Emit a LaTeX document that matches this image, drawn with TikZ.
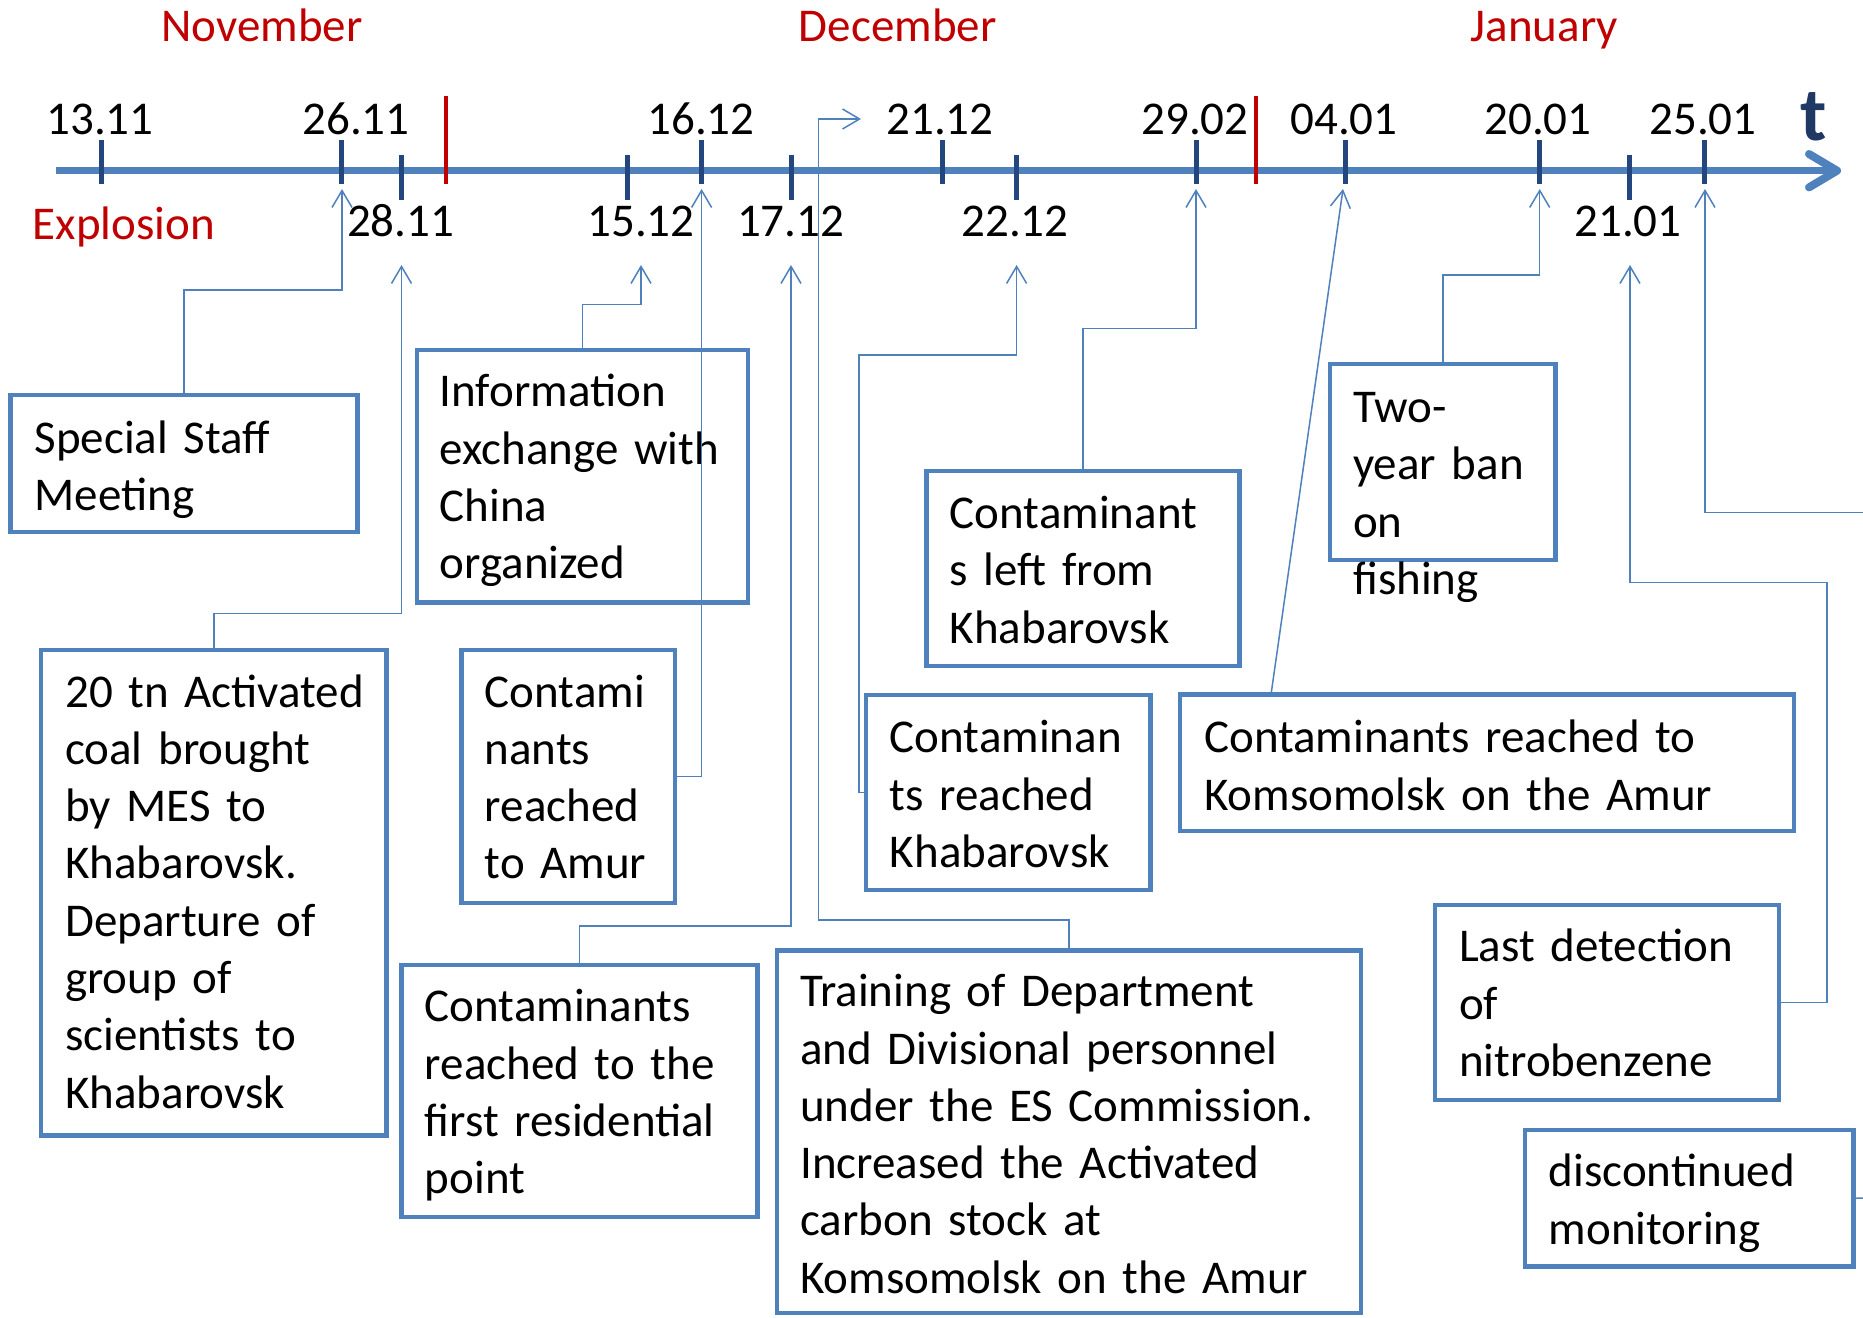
\documentclass[tikz,border=0pt]{standalone}
\usepackage{fontspec}
\setmainfont{Carlito}
\usetikzlibrary{arrows.meta}
\definecolor{boxblue}{RGB}{79,129,189}
\definecolor{tickblue}{RGB}{36,70,126}
\definecolor{monthred}{RGB}{192,0,0}
\definecolor{tnavy}{RGB}{31,56,100}
\begin{document}
\begin{tikzpicture}[x=1pt,y=-1pt,
 evbox/.style={draw=boxblue, line width=4.5pt, inner sep=0pt, outer sep=0pt, anchor=north west},
 btext/.style={inner sep=0pt, anchor=base west, text width=640pt, align=left, font=\fontsize{47}{57.3}\selectfont},
 datelbl/.style={inner sep=0pt, anchor=base, font=\fontsize{47}{57}\selectfont},
 monthlbl/.style={inner sep=0pt, anchor=base, text=monthred, font=\fontsize{47}{57}\selectfont},
 conn/.style={draw=boxblue, line width=1.5pt, -{Straight Barb[length=17pt,width=20pt]}},
 link/.style={draw=boxblue, line width=1.5pt},
 tickmark/.style={draw=tickblue, line width=5pt},
 redline/.style={draw=monthred, line width=4pt},
 axisline/.style={draw=boxblue, line width=7pt},
]
\useasboundingbox (0,0) rectangle (1863,1317);
\fill[white] (0,0) rectangle (1863,1317);

% months
\node[monthlbl] (nov) at (262,41.7) {November};
\node[monthlbl] (dec) at (897.7,41.7) {December};
\node[monthlbl] (jan) at (1544.4,41.7) {January};
\node[monthlbl, anchor=base west] (expl) at (32.6,239) {Explosion};

% axis
\coordinate (ax0) at (56,170.7);
\coordinate (ax1) at (1837,170.7);
\draw[axisline] (ax0) -- (ax1);
\draw[axisline, line width=8pt, line join=round, line cap=round] (1809,154) -- (ax1) -- (1809,187.4);
\node[inner sep=0pt, anchor=base, text=tnavy, font=\fontsize{76}{80}\selectfont\bfseries] (tlbl) at (1814,140) {t};

% red month separators
\draw[redline] (446,96) -- (446,184);
\draw[redline] (1255.6,96) -- (1255.6,184);

% ticks (upper)
\foreach \x in {101.4,341.6,701.6,942,1196,1345.8,1539.7,1704.6}
  \draw[tickmark] (\x,140) -- (\x,184);
% ticks (lower)
\foreach \x in {401.5,627,791,1016.6,1629.9}
  \draw[tickmark] (\x,155) -- (\x,200);

% date labels
\node[datelbl] (d1311) at (100,134) {13.11};
\node[datelbl] (d2611) at (356,134) {26.11};
\node[datelbl] (d1612) at (701,134) {16.12};
\node[datelbl] (d2112) at (940,134) {21.12};
\node[datelbl] (d2902) at (1195,134) {29.02};
\node[datelbl] (d0401) at (1344,134) {04.01};
\node[datelbl] (d2001) at (1538,134) {20.01};
\node[datelbl] (d2501) at (1703,134) {25.01};
\node[datelbl] (d2811) at (400.7,236) {28.11};
\node[datelbl] (d1512) at (641,236) {15.12};
\node[datelbl] (d1712) at (790.6,236) {17.12};
\node[datelbl] (d2212) at (1015,236) {22.12};
\node[datelbl] (d2101) at (1628,236) {21.01};

% arrow tip coordinates
\coordinate (t2611) at (342,189);
\coordinate (t2811) at (401.5,265);
\coordinate (t1512) at (641,265);
\coordinate (t1612) at (701.6,189);
\coordinate (t1712) at (791,265);
\coordinate (t2212) at (1016.6,265);
\coordinate (t2902) at (1196,189);
\coordinate (t0401) at (1343,189);
\coordinate (t2001) at (1539.7,189);
\coordinate (t2101) at (1630,265);
\coordinate (t2501) at (1705,189);
\coordinate (t2112) at (861,119);
\coordinate (r1) at (1863,512.7);
\coordinate (r2) at (1863,1198);

% boxes
\node[evbox, minimum width=347pt, minimum height=137pt] (ssm) at (10.7,395) {};
\node[evbox, minimum width=331pt, minimum height=252.5pt] (info) at (417,350) {};
\node[evbox, minimum width=345.7pt, minimum height=485.7pt] (coal) at (41,650) {};
\node[evbox, minimum width=213.6pt, minimum height=253pt] (amur) at (461.4,650) {};
\node[evbox, minimum width=356pt, minimum height=252pt] (resid) at (401.5,965) {};
\node[evbox, minimum width=584pt, minimum height=362.3pt] (train) at (777,950.7) {};
\node[evbox, minimum width=284.6pt, minimum height=195pt] (khab) at (866,695) {};
\node[evbox, minimum width=313pt, minimum height=195pt] (left) at (926.6,470.8) {};
\node[evbox, minimum width=225.7pt, minimum height=196pt] (ban) at (1330,364) {};
\node[evbox, minimum width=614pt, minimum height=136.4pt] (kom) at (1180,694.6) {};
\node[evbox, minimum width=344pt, minimum height=195pt] (last) at (1435,905) {};
\node[evbox, minimum width=328.5pt, minimum height=136.7pt] (disc) at (1525,1130) {};

% box texts
\node[btext] (ssmt) at (34.4,453.4) {Special Staff\\Meeting};
\node[btext] (infot) at (439.5,406.8) {Information\\exchange with\\China\\organized};
\node[btext] (coalt) at (65,707) {20 tn Activated\\coal brought\\by MES to\\Khabarovsk.\\Departure of\\group of\\scientists to\\Khabarovsk};
\node[btext] (amurt) at (484.6,707) {Contami\\nants\\reached\\to Amur};
\node[btext] (residt) at (424.7,1021.7) {Contaminants\\reached to the\\first residential\\point};
\node[btext] (traint) at (800,1006.7) {Training of Department\\and Divisional personnel\\under the ES Commission.\\Increased the Activated\\carbon stock at\\Komsomolsk on the Amur};
\node[btext] (khabt) at (889.7,752.7) {Contaminan\\ts reached\\Khabarovsk};
\node[btext] (leftt) at (949.6,528.5) {Contaminant\\s left from\\Khabarovsk};
\node[btext] (bant) at (1353,422.6) {Two-\\year ban\\on\\fishing};
\node[btext] (komt) at (1204,752.7) {Contaminants reached to\\Komsomolsk on the Amur};
\node[btext] (lastt) at (1459,961.7) {Last detection\\of\\nitrobenzene};
\node[btext] (disct) at (1548.6,1186.7) {discontinued\\monitoring};

% connectors
\draw[conn] (ssm.north) |- (342,290) -- (t2611);
\draw[conn] (coal.north) |- (401.5,613.6) -- (t2811);
\draw[conn] (info.north) |- (641,304.7) -- (t1512);
\draw[conn] (amur.east) -| (t1612);
\draw[conn] (resid.north) |- (791,926) -- (t1712);
\draw[conn] (train.north) |- (818.5,920) |- (t2112);
\draw[conn] (khab.west) -| (859,355) -| (t2212);
\draw[conn] (left.north) |- (1196,328.5) -- (t2902);
\draw[conn] ([xshift=91pt]kom.north west) -- (t0401);
\draw[conn] (ban.north) |- (1539.7,275) -- (t2001);
\draw[conn] (last.east) -| (1826.8,582.7) -| (t2101);
\draw[conn] (r1) -| (t2501);
\draw[link] (disc.east) -- (r2);
\end{tikzpicture}
\end{document}
